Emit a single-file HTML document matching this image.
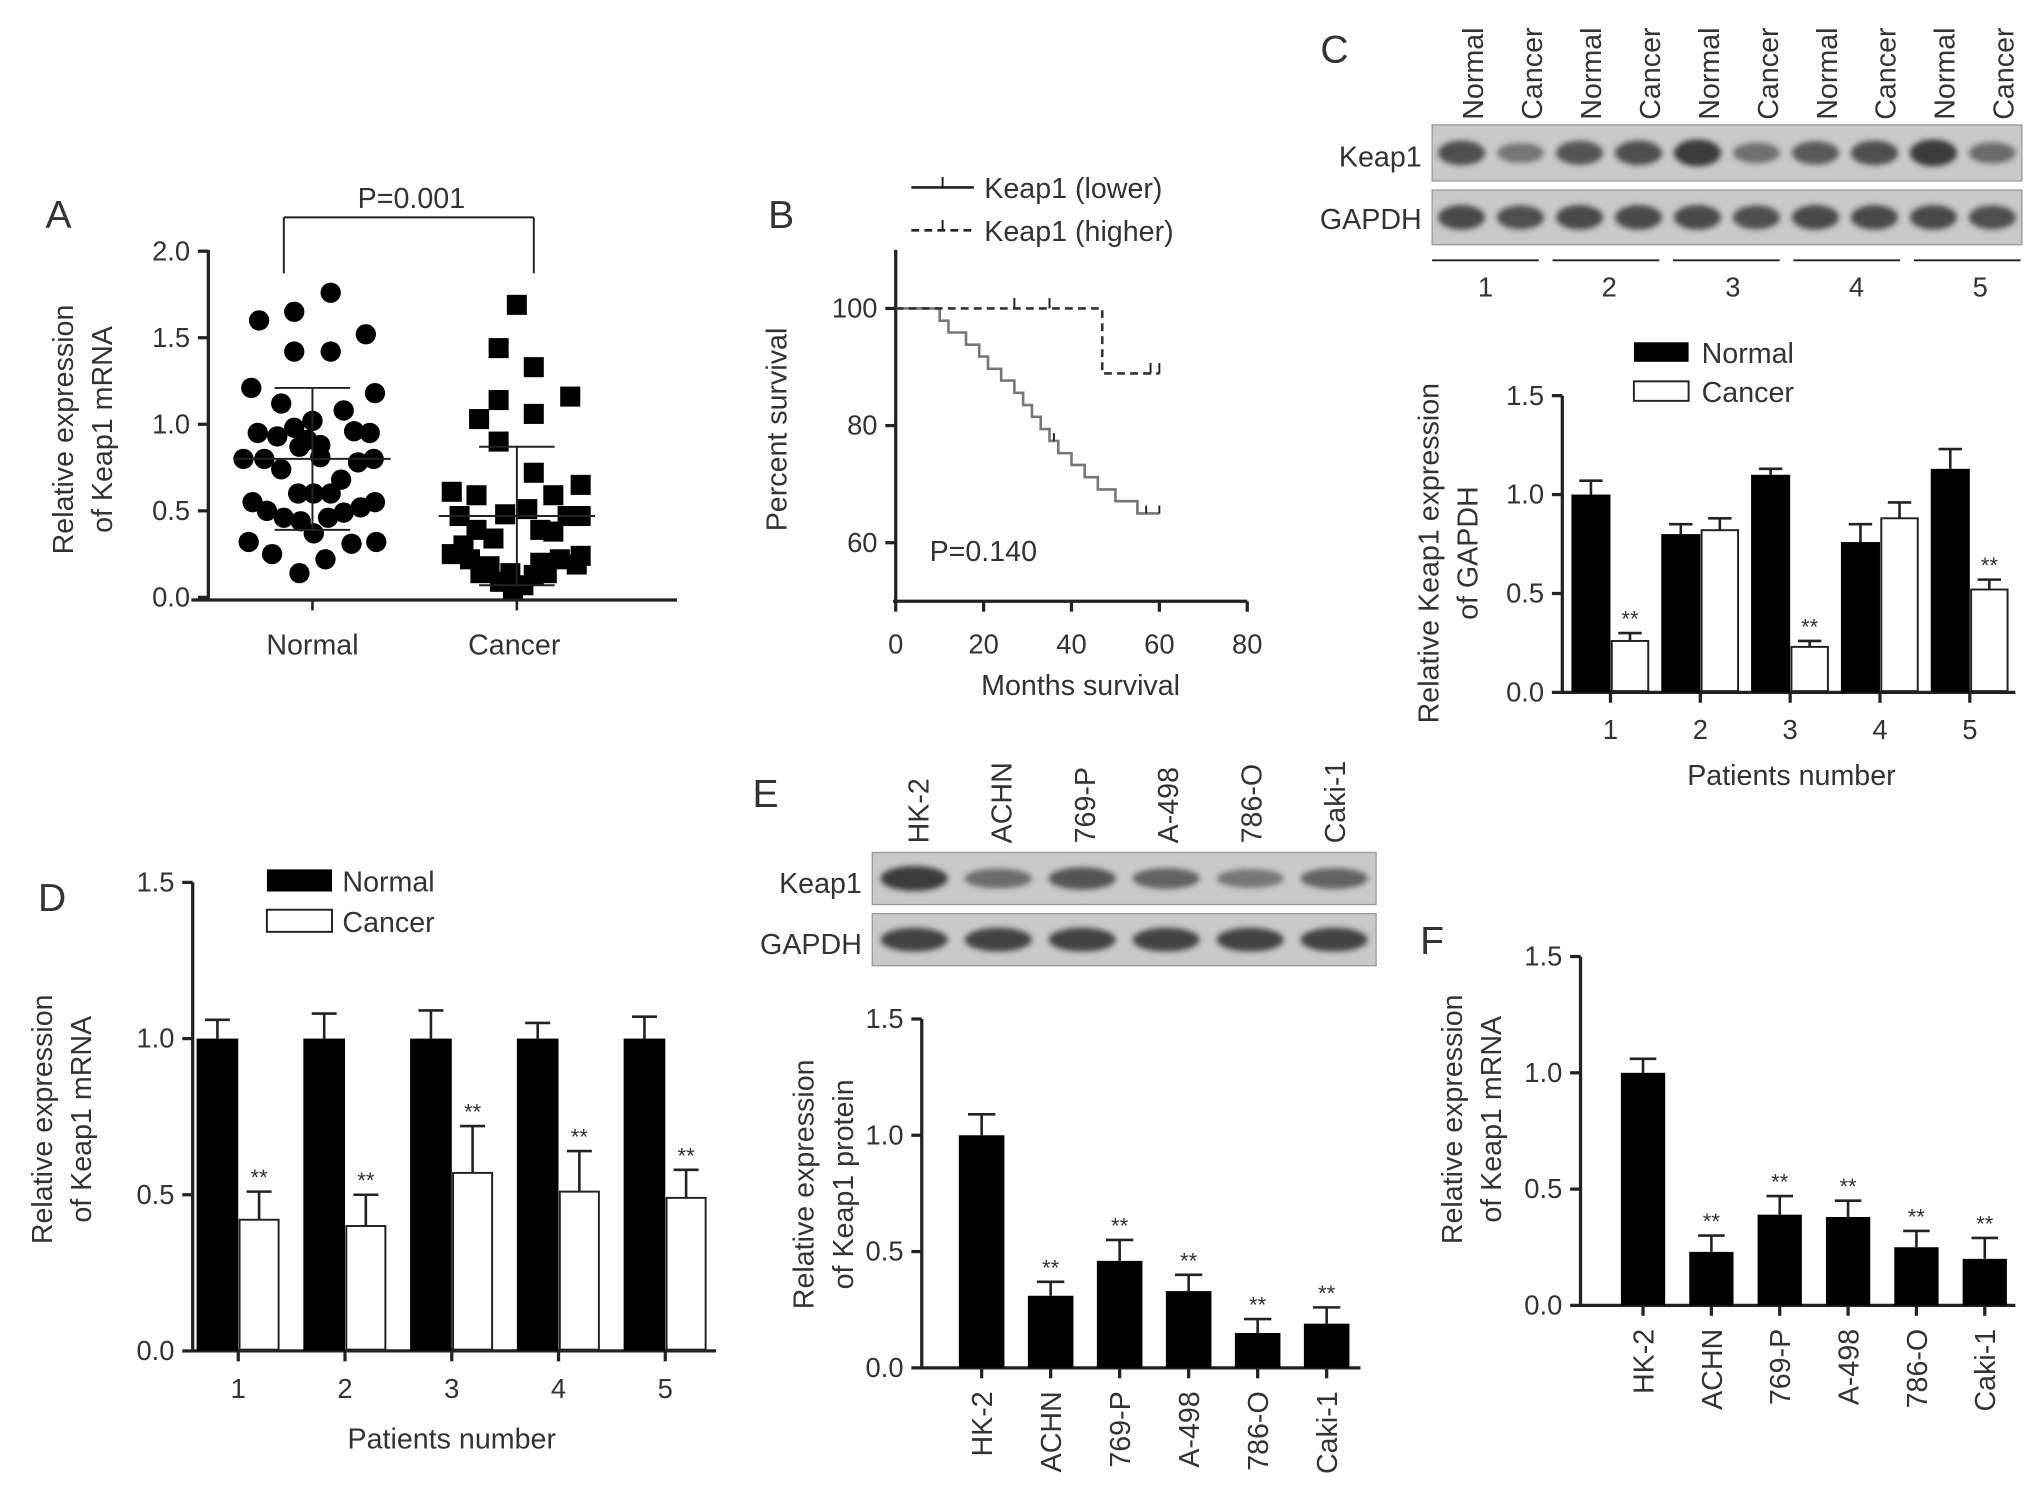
<!DOCTYPE html>
<html><head><meta charset="utf-8"><style>
html,body{margin:0;padding:0;background:#fff}
svg{display:block}
text{font-family:"Liberation Sans",sans-serif;fill:#333}
</style></head><body>
<svg id="fig" width="2031" height="1498" viewBox="0 0 1560 1151" preserveAspectRatio="none" xmlns="http://www.w3.org/2000/svg">
<defs><filter id="blur" x="-20%" y="-50%" width="140%" height="200%"><feGaussianBlur stdDeviation="2.2"/></filter></defs>
</svg>
<script>
// ---------- data ----------
const normalVals=[1.76,1.65,1.6,1.52,1.42,1.42,1.21,1.18,1.12,1.08,1.02,0.95,0.93,0.98,0.91,0.88,0.96,0.95,0.87,0.80,0.80,0.74,0.81,0.68,0.78,0.80,0.60,0.60,0.60,0.55,0.50,0.46,0.44,0.37,0.46,0.49,0.52,0.55,0.32,0.25,0.14,0.22,0.31,0.32];
const normalJit=[14,-14,-41,41,-14,14,-47,48,-24,24,0,-42,-27,-14,-4,6,32,44,-10,-53,-37,-24,6,22,35,47,-11,1,14,-46,-35,-22,-9,1,12,24,37,48,-49,-31,-10,10,30,49];
const cancerVals=[1.69,1.44,1.33,1.16,1.14,1.06,1.03,0.90,0.72,0.65,0.61,0.59,0.59,0.47,0.39,0.48,0.51,0.47,0.47,0.34,0.39,0.38,0.25,0.22,0.18,0.14,0.07,0.20,0.22,0.24,0.05,0.09,0.13,0.30,0.19,0.14,0.14];
const cancerJit=[0,-14,13,41,-14,13,-29,-14,13,49,-50,-31,28,-44,-31,-9,8,39,49,-18,18,28,-50,-36,-21,-5,5,18,33,49,-3,-13,13,-41,46,-28,23];
const normalMean=0.80, normalSD=0.41, cancerMean=0.47, cancerSD=0.40;

const survLowT=[0,10,12,16,19,21,24,27,29,31,33,35,37,40,43,46,50,55,60];
const survLowS=[100,97.1,94.3,91.4,88.6,85.7,82.9,80,77.1,74.3,71.4,68.6,65.7,62.9,60,57.1,54.3,51.4,51.4];
const survHiT=[0,47,60];
const survHiS=[100,88.9,88.9];
const survLowCens=[36,57,60];
const survHiCens=[27,35,58,60];

const cCats=["1","2","3","4","5"];
const cNormal=[1.0,0.80,1.10,0.76,1.13];
const cNormalErr=[0.07,0.05,0.03,0.09,0.10];
const cCancer=[0.26,0.82,0.23,0.88,0.52];
const cCancerErr=[0.04,0.06,0.03,0.08,0.05];
const cSig=[true,false,true,false,true];

const dCats=["1","2","3","4","5"];
const dNormal=[1,1,1,1,1];
const dNormalErr=[0.06,0.08,0.09,0.05,0.07];
const dCancer=[0.42,0.40,0.57,0.51,0.49];
const dCancerErr=[0.09,0.10,0.15,0.13,0.09];

const cellLines=["HK-2","ACHN","769-P","A-498","786-O","Caki-1"];
const eVals=[1.0,0.31,0.46,0.33,0.15,0.19];
const eErr=[0.09,0.06,0.09,0.07,0.06,0.07];
const fVals=[1.0,0.23,0.39,0.38,0.25,0.20];
const fErr=[0.06,0.07,0.08,0.07,0.07,0.09];
const ticks15=["0.0","0.5","1.0","1.5"];
const ticks20=["0.0","0.5","1.0","1.5","2.0"];
const survTicksY=["60","80","100"];
const survTicksX=["0","20","40","60","80"];

// ---------- helpers ----------
const S=document.getElementById('fig');const NS="http://www.w3.org/2000/svg";
function mk(tag,at,parent){const e=document.createElementNS(NS,tag);for(const k in at)e.setAttribute(k,at[k]);(parent||S).appendChild(e);return e;}
function tx(x,y,s,size,anchor,extra){const e=mk('text',Object.assign({x:x,y:y,'font-size':size,'text-anchor':anchor||'middle'},extra||{}));e.textContent=s;return e;}
function line(x1,y1,x2,y2,w,dash){const a={x1:x1,y1:y1,x2:x2,y2:y2,stroke:'#222','stroke-width':w||2};if(dash)a['stroke-dasharray']=dash;return mk('line',a);}
function yAxis(x,y0,y1,labels,tickVals,scale,name){
  const g=mk('g',{});
  
  
  mk('line',{x1:x,y1:y0,x2:x,y2:y1,stroke:'#222','stroke-width':2.5},g);
  labels.forEach((l,i)=>{const y=scale(tickVals[i]);mk('line',{x1:x-8,y1:y,x2:x,y2:y,stroke:'#222','stroke-width':2.5},g);
    const t=mk('text',{x:x-14,y:y+7,'font-size':21,'text-anchor':'end'},g);t.textContent=l;});
}
function panelLabel(x,y,s){const t=tx(x,y,s,30,'middle');}
function errBar(x,yTop,yErr,w){line(x,yTop,x,yErr,2);line(x-w,yErr,x+w,yErr,2);}

// ---------- Panel A ----------
panelLabel(45,175,'A');
(function(){
 const y=v=>459-v*133, xN=240, xC=397;
 yAxis(160,192,461,ticks20,[0,0.5,1,1.5,2],y,'y-axis-a');
 line(147,461,520,461,2.5);line(xN,461,xN,469,2);line(xC,461,xC,469,2);
 let t=tx(240,503,'Normal',22);
 t=tx(395,503,'Cancer',22);
 t=tx(0,0,'Relative expression',22,'middle',{transform:'translate(56,330) rotate(-90)'});
 t=tx(0,0,'of Keap1 mRNA',22,'middle',{transform:'translate(86,330) rotate(-90)'});
 
 // bracket
 line(218,167,218,210,1.5);line(218,167,410,167,1.5);line(410,167,410,210,1.5);
 t=tx(316,160,'P=0.001',22);
 normalVals.forEach((v,i)=>{const c=mk('circle',{cx:xN+normalJit[i],cy:y(v),r:7.8,fill:'#000'});
  
  });
 cancerVals.forEach((v,i)=>{const r=mk('rect',{x:xC+cancerJit[i]-7.7,y:y(v)-7.7,width:15.4,height:15.4,fill:'#000'});
  
  });
 [[xN,normalMean,normalSD],[xC,cancerMean,cancerSD]].forEach(([x,m,s])=>{
  line(x-60,y(m),x+60,y(m),1.5);line(x,y(m),x,y(m+s),1.5);line(x-29,y(m+s),x+29,y(m+s),1.5);line(x,y(m),x,y(m-s),1.5);line(x-29,y(m-s),x+29,y(m-s),1.5);});
})();

// ---------- Panel B ----------
panelLabel(600,175,'B');
(function(){
 const x=m=>688+m*3.375, y=s=>237+(100-s)*4.5;
 yAxis(688,192,462,survTicksY,[60,80,100],y,'y-axis-b');
 line(686,462,958,462,2.5);
 survTicksX.forEach(l=>{const v=+l;line(x(v),462,x(v),470,2.5);const t=tx(x(v),502,l,21);});
 let t=tx(830,534,'Months survival',22);
 t=tx(0,0,'Percent survival',22,'middle',{transform:'translate(604,330) rotate(-90)'});
 t=tx(714,431,'P=0.140',22,'start');
 function step(T,Sv,dash,name){let d='M'+x(T[0])+' '+y(Sv[0]);for(let i=1;i<T.length;i++){d+=' H'+x(T[i])+' V'+y(Sv[i]);}
  const p=mk('path',{d:d,fill:'none',stroke:dash?'#333':'#777','stroke-width':2,'stroke-dasharray':dash||'none'});
  
  }
 const lowS=survLowS.map(s=>65+(s-51.4)*35/48.6);
 step(survLowT,lowS,null,'survival-line-lower');
 step(survHiT,survHiS,'6,4','survival-line-higher');
 function sAt(T,Sv,m){let s=Sv[0];for(let i=0;i<T.length;i++)if(T[i]<=m)s=Sv[i];return s;}
 survLowCens.forEach(m=>line(x(m),y(sAt(survLowT,lowS,m))-6,x(m),y(sAt(survLowT,lowS,m)),1.5));
 survHiCens.forEach(m=>line(x(m),y(sAt(survHiT,survHiS,m))-8,x(m),y(sAt(survHiT,survHiS,m)),1.5));
 // legend
 line(700,144,748,144,2);line(724,136,724,144,1.5);
 t=tx(756,152,'Keap1 (lower)',22,'start');
 line(700,177,748,177,2,'6,4');line(724,169,724,177,1.5);
 t=tx(756,185,'Keap1 (higher)',22,'start');
})();

// ---------- blots ----------
function blot(x,y,w,h,n,intens,name){
 const g=mk('g',{});
 
 
 mk('rect',{x:x,y:y,width:w,height:h,fill:'#c9c9c9',stroke:'#999','stroke-width':1},g);
 const lw=w/n;
 intens.forEach((v,i)=>{mk('ellipse',{cx:x+lw*(i+0.5),cy:y+h/2,rx:lw*0.4,ry:h*0.14+v*h*0.1,fill:'#333','fill-opacity':0.3+0.65*v,filter:'url(#blur)'},g);});
}
panelLabel(1025,48,'C');
['Normal','Cancer','Normal','Cancer','Normal','Cancer','Normal','Cancer','Normal','Cancer'].forEach((s,i)=>{
 const t=tx(0,0,s,22,'start',{transform:'translate('+(1139+i*45.3)+',92) rotate(-90)'});
 
 });
blot(1100,96,453,43,10,[0.8,0.4,0.75,0.8,1,0.45,0.7,0.8,1,0.5],'blot-c-keap1');
blot(1100,146,453,42,10,[0.85,0.8,0.85,0.85,0.85,0.8,0.85,0.85,0.85,0.8],'blot-c-gapdh');
tx(1092,128,'Keap1',22,'end');tx(1092,176,'GAPDH',22,'end');
[1,2,3,4,5].forEach((n,i)=>{line(1100+i*92.5,200,1182+i*92.5,200,1.5);tx(1141+i*95,228,String(n),21);});

blot(670,655,387,40,6,[1,0.5,0.75,0.6,0.4,0.6],'blot-e-keap1');
blot(670,702,387,40,6,[0.9,0.9,0.9,0.9,0.9,0.9],'blot-e-gapdh');
tx(662,686,'Keap1',22,'end');tx(662,733,'GAPDH',22,'end');
panelLabel(588,620,'E');
cellLines.forEach((s,i)=>{const t=tx(0,0,s,22,'start',{transform:'translate('+(713+i*64)+',648) rotate(-90)'});
 
 });

// ---------- grouped bar charts ----------
function grouped(o){
 const y=v=>o.y0-v*o.k;
 yAxis(o.ax,o.yTop,o.y0+1,ticks15,[0,0.5,1,1.5],y,o.name+'-y-axis');
 line(o.ax-1,o.y0,o.xEnd,o.y0,2.5);
 o.cats.forEach((c,i)=>{const cx=o.x0+i*o.step;
  line(cx,o.y0,cx,o.y0+8,2.5);
  const t=tx(cx,o.y0+36,c,21);
  const vn=o.normal[i], vc=o.cancer[i];
  errBar(cx-o.bw/2,y(vn),y(vn+o.nerr[i]),o.bw*0.3);
  const r1=mk('rect',{x:cx-o.bw,y:y(vn),width:o.bw,height:vn*o.k,fill:'#000'});
  
  
  errBar(cx+o.bw/2,y(vc),y(vc+o.cerr[i]),o.bw*0.3);
  const r2=mk('rect',{x:cx+1,y:y(vc),width:o.bw-2,height:vc*o.k-1,fill:'#fff',stroke:'#222','stroke-width':1.5});
  
  
  if(o.sig[i])tx(cx+o.bw/2,y(vc+o.cerr[i])-5,'**',17);
 });
}
grouped({name:'c',ax:1200,y0:532,yTop:304,k:152,xEnd:1548,x0:1237,step:69,bw:30,cats:cCats,normal:cNormal,nerr:cNormalErr,cancer:cCancer,cerr:cCancerErr,sig:cSig});
tx(1376,603,'Patients number',22);
tx(0,0,'Relative Keap1 expression',22,'middle',{transform:'translate(1105,425) rotate(-90)'});
tx(0,0,'of  GAPDH',22,'middle',{transform:'translate(1135,425) rotate(-90)'});
mk('rect',{x:1255,y:263,width:42,height:15,fill:'#000'});tx(1307,279,'Normal',22,'start');
mk('rect',{x:1255,y:293,width:42,height:15,fill:'#fff',stroke:'#222','stroke-width':1.5});tx(1307,309,'Cancer',22,'start');

panelLabel(40,700,'D');
grouped({name:'d',ax:148,y0:1038,yTop:678,k:240,xEnd:550,x0:183,step:82,bw:32,cats:dCats,normal:dNormal,nerr:dNormalErr,cancer:dCancer,cerr:dCancerErr,sig:[true,true,true,true,true]});
tx(347,1113,'Patients number',22);
tx(0,0,'Relative expression',22,'middle',{transform:'translate(40,860) rotate(-90)'});
tx(0,0,'of Keap1 mRNA',22,'middle',{transform:'translate(70,860) rotate(-90)'});
mk('rect',{x:205,y:668,width:50,height:17,fill:'#000'});tx(263,685,'Normal',22,'start');
mk('rect',{x:205,y:699,width:50,height:17,fill:'#fff',stroke:'#222','stroke-width':1.5});tx(263,716,'Cancer',22,'start');

// ---------- single bar charts ----------
function single(o){
 const y=v=>o.y0-v*o.k;
 yAxis(o.ax,o.yTop,o.y0+1,ticks15,[0,0.5,1,1.5],y,o.name+'-y-axis');
 line(o.ax-1,o.y0,o.xEnd,o.y0,2.5);
 o.cats.forEach((c,i)=>{const cx=o.x0+i*o.step;
  line(cx,o.y0,cx,o.y0+8,2.5);
  const t=tx(0,0,c,22,'end',{transform:'translate('+(cx+8)+','+(o.y0+18)+') rotate(-90)'});
  
  
  const v=o.vals[i];
  errBar(cx,y(v),y(v+o.err[i]),o.bw*0.3);
  const r=mk('rect',{x:cx-o.bw/2,y:y(v),width:o.bw,height:v*o.k,fill:'#000'});
  
  
  if(i>0)tx(cx,y(v+o.err[i])-5,'**',17);
 });
}
single({name:'e',ax:708,y0:1051,yTop:783,k:178.7,xEnd:1045,x0:754,step:53,bw:35,cats:cellLines,vals:eVals,err:eErr});
tx(0,0,'Relative expression',22,'middle',{transform:'translate(625,910) rotate(-90)'});
tx(0,0,'of Keap1 protein',22,'middle',{transform:'translate(655,910) rotate(-90)'});

panelLabel(1100,733,'F');
single({name:'f',ax:1214,y0:1003,yTop:735,k:178.7,xEnd:1548,x0:1262,step:52.5,bw:34,cats:cellLines,vals:fVals,err:fErr});
tx(0,0,'Relative expression',22,'middle',{transform:'translate(1123,860) rotate(-90)'});
tx(0,0,'of Keap1 mRNA',22,'middle',{transform:'translate(1153,860) rotate(-90)'});
</script>
</body></html>
